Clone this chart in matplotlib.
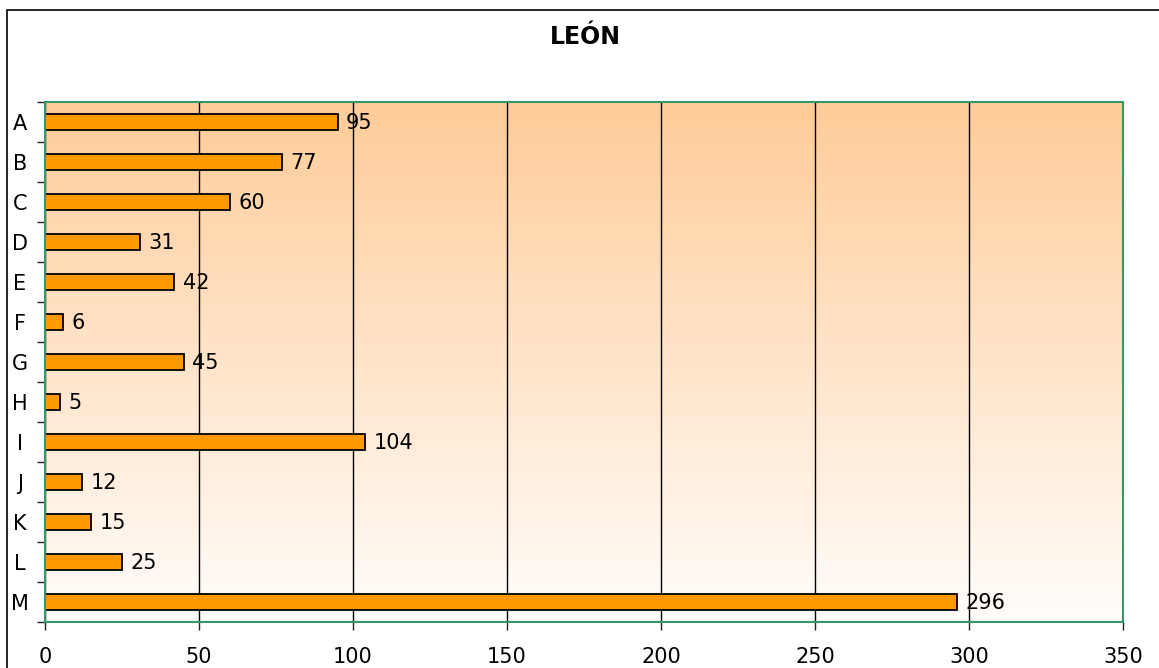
import numpy as np
import matplotlib
matplotlib.use("Agg")
import matplotlib.pyplot as plt
from matplotlib.patches import Rectangle
from matplotlib.colors import LinearSegmentedColormap

# data
categories = ["A", "B", "C", "D", "E", "F", "G", "H", "I", "J", "K", "L", "M"]
values = [95, 77, 60, 31, 42, 6, 45, 5, 104, 12, 15, 25, 296]
x_ticks = [0, 50, 100, 150, 200, 250, 300, 350]

green = "#339966"

fig = plt.figure(figsize=(11.59, 6.68), dpi=100)
ax = fig.add_axes([45 / 1159, 1 - 622 / 668, (1123 - 45) / 1159, (622 - 102) / 668])

# vertical gradient background (peach at top -> white at bottom)
cmap = LinearSegmentedColormap.from_list("bg", ["#FFFDFB", "#FFCC99"])
grad = np.linspace(0, 1, 256).reshape(-1, 1)
ax.imshow(grad, cmap=cmap, aspect="auto", origin="lower",
          extent=[0, 1, 0, 1], transform=ax.transAxes, zorder=0)

y = np.arange(len(categories))
ax.barh(y, values, height=0.4, color="#FF9900", edgecolor="black",
        linewidth=1.3, zorder=3)

for yi, v in zip(y, values):
    ax.annotate(str(v), (v, yi), xytext=(6, -1), textcoords="offset points",
                va="center", ha="left", fontsize=15, zorder=4)

ax.set_xlim(0, 350)
ax.set_ylim(len(categories) - 0.5, -0.5)

ax.set_xticks(x_ticks)
ax.set_xticklabels([str(t) for t in x_ticks])
ax.set_yticks(y)
ax.set_yticklabels(categories)
ax.set_yticks(np.arange(len(categories) + 1) - 0.5, minor=True)

ax.tick_params(axis="y", which="major", length=0, pad=18, labelsize=15)
for lbl in ax.get_yticklabels():
    lbl.set_horizontalalignment("center")
ax.tick_params(axis="y", which="minor", length=6, width=1, color="#222222")
ax.tick_params(axis="x", which="major", length=6, width=1, color="#222222",
               pad=12, labelsize=15)

ax.grid(axis="x", color="black", linewidth=1, zorder=1)
ax.set_axisbelow(True)

for s in ax.spines.values():
    s.set_color(green)
    s.set_linewidth(1.5)
    s.set_zorder(5)

fig.text(585 / 1159, 1 - 37 / 668, "LEÓN", ha="center", va="center",
         fontsize=17, fontweight="bold")

# outer chart border (only top and left edges visible in the crop)
fig.add_artist(Rectangle((7 / 1159, -0.2), 1.2, (668 - 10) / 668 + 0.2,
                         transform=fig.transFigure, fill=False,
                         edgecolor="black", linewidth=1.2))

fig.savefig("out.png", dpi=100)
